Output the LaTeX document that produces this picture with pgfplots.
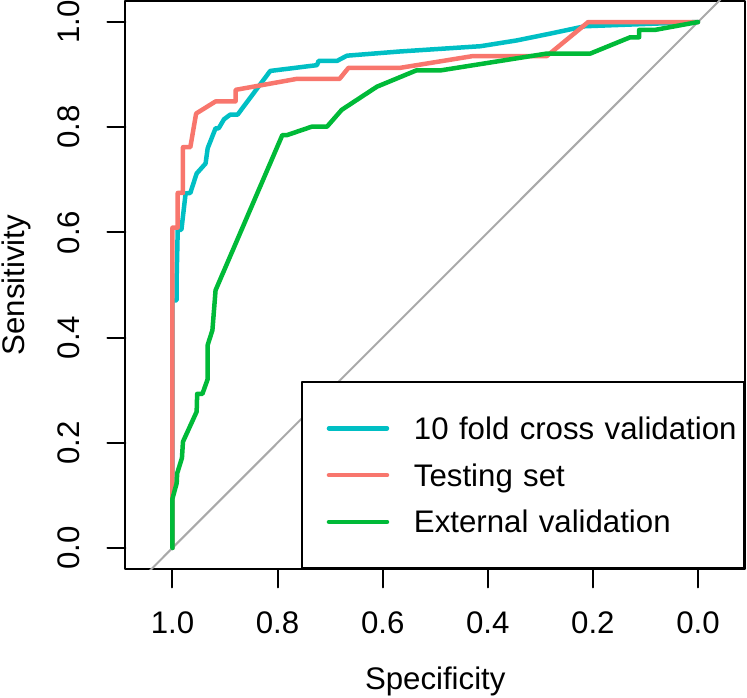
\documentclass[border=0pt]{standalone}
\usepackage{fontspec}
\setmainfont{Liberation Sans}
\usepackage{pgfplots}
\pgfplotsset{compat=1.18}

\definecolor{cvcol}{HTML}{00BFC4}
\definecolor{testcol}{HTML}{F8766D}
\definecolor{extcol}{HTML}{00BA38}
\definecolor{diagcol}{HTML}{A9A9A9}

\newcommand{\lblfont}{\fontsize{31.2}{37}\selectfont}

\begin{document}
\begin{tikzpicture}
\begin{axis}[
  scale only axis,
  width=619.5pt, height=568.5pt,
  x dir=reverse,
  xmin=-0.0894, xmax=1.0894,
  ymin=-0.041, ymax=1.040,
  axis line style={line width=2pt},
  xtick={0,0.2,0.4,0.6,0.8,1},
  xticklabels={0.0,0.2,0.4,0.6,0.8,1.0},
  ytick={0,0.2,0.4,0.6,0.8,1},
  yticklabels={0.0,0.2,0.4,0.6,0.8,1.0},
  xtick pos=bottom, ytick pos=left,
  tick align=outside,
  major tick length=18pt,
  every tick/.style={black, line width=2pt},
  tick label style={font=\lblfont, inner sep=0pt},
  xticklabel style={anchor=base},
  xticklabel shift=46.5pt,
  yticklabel style={rotate=90, anchor=base},
  yticklabel shift=27.5pt,
  xlabel={Specificity},
  ylabel={Sensitivity},
  xlabel style={at={([yshift=-120.5pt]axis description cs:0.5,0)}, anchor=base, inner sep=0pt, font=\lblfont},
  ylabel style={at={([xshift=-101pt]axis description cs:0,0.5)}, rotate=0, anchor=base, inner sep=0pt, font=\lblfont},
  legend style={
    at={(axis description cs:1,0)}, anchor=south east,
    draw=black, line width=2pt,
    inner xsep=0pt, inner ysep=35.55pt,
    row sep=24.4pt,
    font=\lblfont,
    nodes={inner sep=0pt, text height=22.3pt, text depth=0pt,
           text width=330pt, align=left, anchor=west},
  },
  legend cell align=left,
  legend image code/.code={
    \path[draw=none, fill=none] (-26.7pt,0pt) -- (85pt,0pt);
    \draw[#1, line width=4.5pt, line cap=round] (0pt,0pt) -- (58pt,0pt);
  },
  line join=round, line cap=round,
]

% chance line
\addplot[diagcol, line width=2pt, forget plot] coordinates {(1.2,-0.2) (-0.2,1.2)};

% 10 fold cross validation
\addplot[cvcol, line width=4.5pt] coordinates {
  (1,0) (1,0.47) (0.992,0.471) (0.992,0.516) (0.990,0.605) (0.983,0.605)
  (0.975,0.674) (0.966,0.675) (0.954,0.712) (0.937,0.731) (0.933,0.760)
  (0.918,0.798) (0.912,0.798) (0.902,0.815) (0.890,0.824) (0.876,0.824)
  (0.814,0.907) (0.725,0.918) (0.722,0.926) (0.687,0.926) (0.668,0.936)
  (0.567,0.944) (0.414,0.954) (0.345,0.965) (0.281,0.978) (0.215,0.992) (0,1)
};
\addlegendentry{10 fold cross validation}

% testing set
\addplot[testcol, line width=4.5pt] coordinates {
  (1,0) (1,0.609) (0.990,0.609) (0.990,0.675) (0.980,0.675) (0.980,0.762)
  (0.966,0.762) (0.955,0.826) (0.918,0.849) (0.880,0.849) (0.880,0.871)
  (0.763,0.892) (0.682,0.892) (0.665,0.913) (0.566,0.913) (0.430,0.935)
  (0.288,0.935) (0.209,1) (0,1)
};
\addlegendentry{Testing set}

% external validation
\addplot[extcol, line width=4.5pt] coordinates {
  (1,0) (1,0.094) (0.992,0.123) (0.991,0.142) (0.982,0.171) (0.980,0.202)
  (0.954,0.259) (0.953,0.293) (0.943,0.293) (0.933,0.321) (0.933,0.386)
  (0.924,0.414) (0.918,0.490) (0.791,0.785) (0.782,0.785) (0.735,0.801)
  (0.706,0.801) (0.678,0.833) (0.611,0.877) (0.536,0.908) (0.490,0.908)
  (0.288,0.940) (0.205,0.940) (0.129,0.971) (0.112,0.971) (0.112,0.985)
  (0.082,0.985) (0,1)
};
\addlegendentry{External validation}

\coordinate (bl) at (axis description cs:0,0);
\coordinate (tr) at (axis description cs:1,1);
\end{axis}
\pgfresetboundingbox
\path ([xshift=-125.5pt,yshift=-128.5pt]bl) rectangle ([xshift=2pt,yshift=1pt]tr);
\end{tikzpicture}
\end{document}
